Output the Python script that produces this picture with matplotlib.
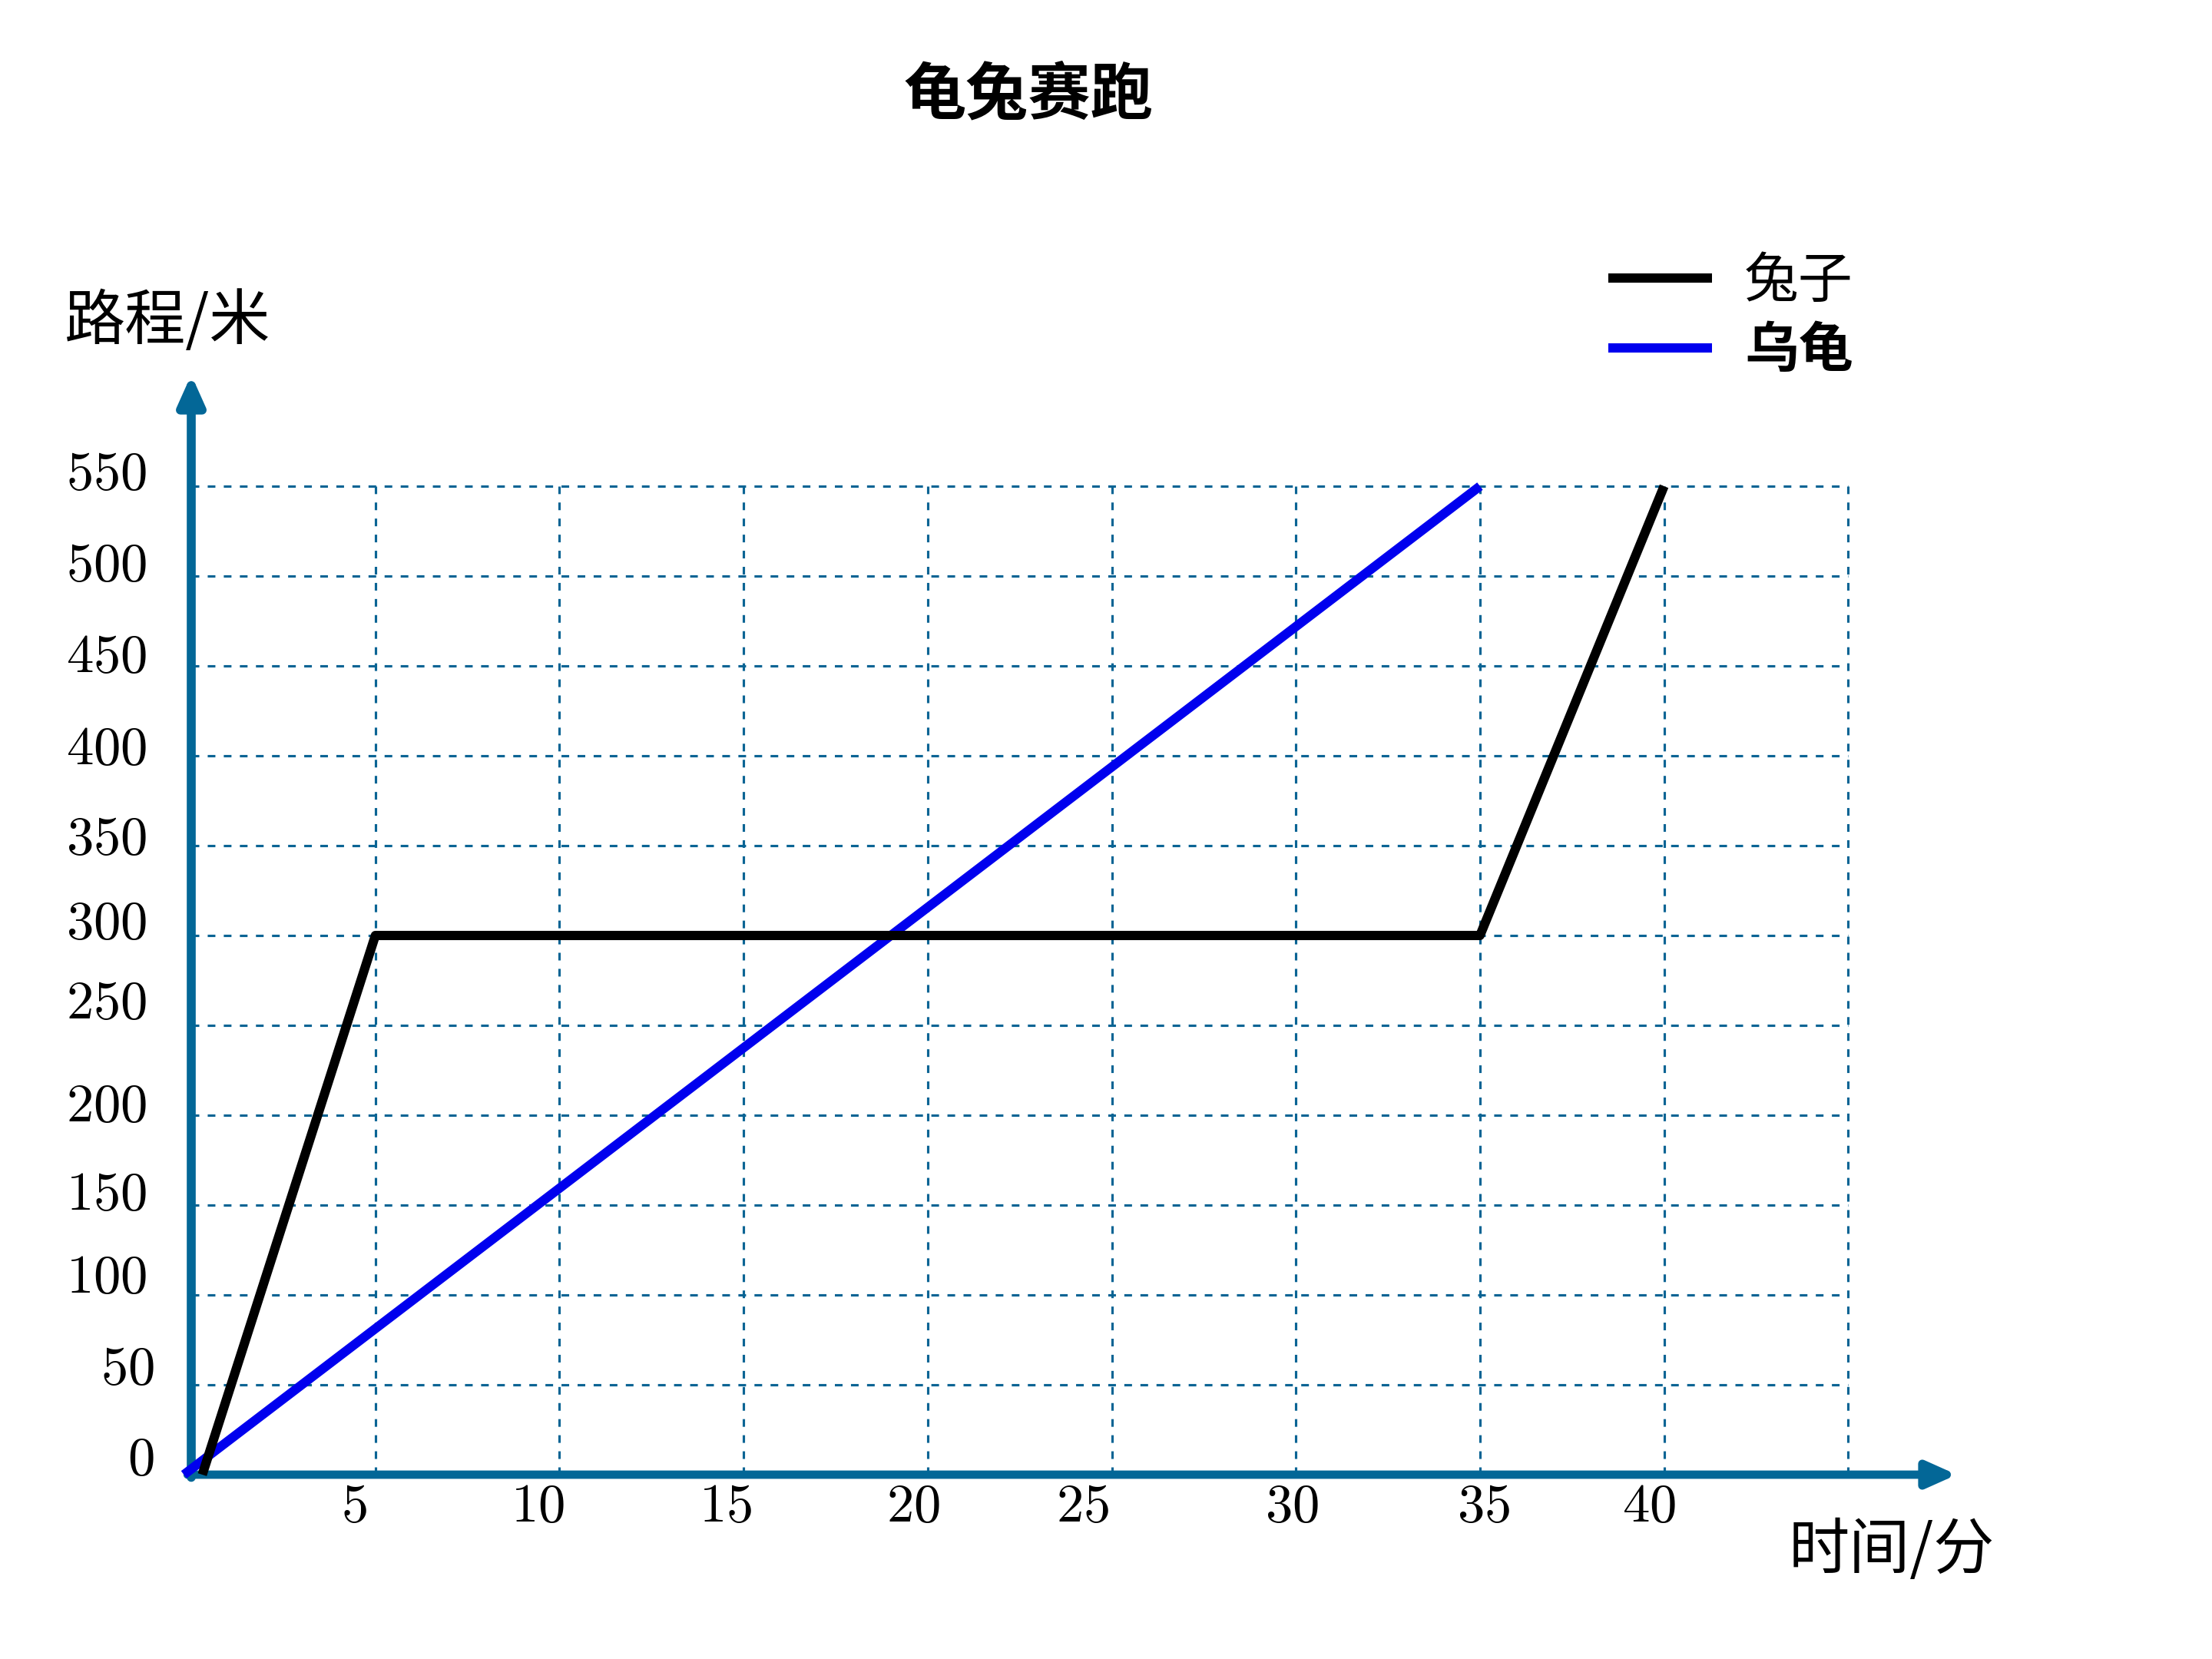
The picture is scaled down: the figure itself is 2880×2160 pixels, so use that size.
import matplotlib
matplotlib.use("Agg")
import matplotlib.pyplot as plt

plt.rcParams['font.family'] = ['Noto Sans CJK SC', 'DejaVu Sans']
plt.rcParams['mathtext.fontset'] = 'cm'

# ---- data ----
title = "龟兔赛跑"
xlabel = "时间/分"
ylabel = "路程/米"
rabbit_name = "兔子"
turtle_name = "乌龟"
rabbit_t = [0.3, 5, 35, 40]
rabbit_d = [0, 300, 300, 550]
turtle_t = [-0.2, 35]
turtle_d = [0, 550]
x_ticks = [5, 10, 15, 20, 25, 30, 35, 40]
x_grid = [5, 10, 15, 20, 25, 30, 35, 40, 45]
y_ticks = [0, 50, 100, 150, 200, 250, 300, 350, 400, 450, 500, 550]
y_grid = [50, 100, 150, 200, 250, 300, 350, 400, 450, 500, 550]

# ---- style / placement ----
x_lab_off = [-0.57, -0.6, -0.5, -0.4, -0.8, -0.1, 0.1, -0.4]
y_lab_off = [8.6, 9.4, 10, 6, 5.5, 12.5, 7, 4, 4, 5.5, 6, 7]
axis_col = '#036797'
grid_col = '#0a6494'
W, H = 2880, 2160
x0px, y0px = 249, 1920
pxu_x = 239.7 / 5
pxu_y = 117.0 / 50

fig = plt.figure(figsize=(9.6, 7.2), dpi=300)
ax = fig.add_axes([0, 0, 1, 1])
ax.set_xlim(-x0px / pxu_x, (W - x0px) / pxu_x)
ax.set_ylim(-(H - y0px) / pxu_y, y0px / pxu_y)
ax.axis('off')

# grid
dash = (0, (3.2, 3.5))
ax.hlines(y_grid, 0, max(x_grid), colors=grid_col, linestyles=dash, lw=0.75, zorder=1)
ax.vlines(x_grid, 0, max(y_grid), colors=grid_col, linestyles=dash, lw=0.75, zorder=1)

# axes arrows
arrow_style = '-|>,head_length=0.38,head_width=0.17'
ax.annotate('', xy=(0, 612), xytext=(0, -1.5),
            arrowprops=dict(arrowstyle=arrow_style, mutation_scale=20, lw=2.8,
                            color=axis_col, shrinkA=0, shrinkB=0),
            zorder=2)
ax.annotate('', xy=(47.95, 0), xytext=(-0.1, 0),
            arrowprops=dict(arrowstyle=arrow_style, mutation_scale=20, lw=2.6,
                            color=axis_col, shrinkA=0, shrinkB=0),
            zorder=2)

# series
l1, = ax.plot(rabbit_t, rabbit_d, color='black', lw=2.9, label=rabbit_name,
              solid_capstyle='butt', zorder=4)
l2, = ax.plot(turtle_t, turtle_d, color='#0000ee', lw=2.9, label=turtle_name,
              solid_capstyle='butt', zorder=3)

# tick labels
for v, o in zip(x_ticks, x_lab_off):
    ax.text(v + o, -1.8, f'${v}$', ha='center', va='top', fontsize=17)
for v, o in zip(y_ticks, y_lab_off):
    ax.text(-1.2 if v >= 100 else -1.0, v + o, f'${v}$', ha='right', va='center', fontsize=17)

# axis labels
ax.text(-0.65, (y0px - 419) / pxu_y, ylabel, ha='center', va='center', fontsize=19)
ax.text((2463 - x0px) / pxu_x, -(2019 - y0px) / pxu_y, xlabel, ha='center', va='center', fontsize=19)

# title
ax.text((1339 - x0px) / pxu_x, (y0px - 125) / pxu_y, title, ha='center', va='center',
        fontsize=19.5, fontweight='bold')

# legend
leg = ax.legend(handles=[l1, l2], loc='upper left', bbox_to_anchor=(2094 / W, 1 - 330 / H),
                bbox_transform=fig.transFigure, frameon=False, fontsize=17,
                handlelength=1.9, handletextpad=0.6, labelspacing=0.25,
                borderpad=0, borderaxespad=0)
leg.get_texts()[1].set_fontweight('bold')

fig.savefig('out.png', dpi=300)
